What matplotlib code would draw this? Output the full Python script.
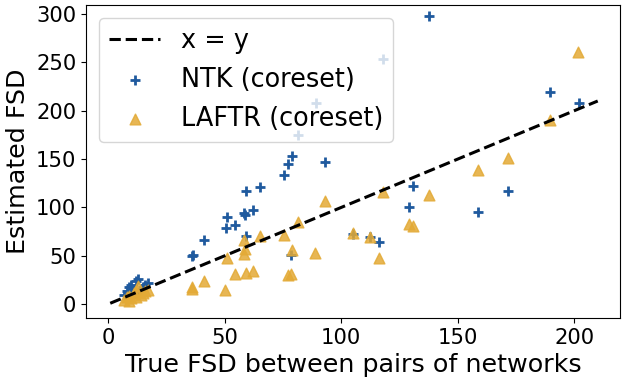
import matplotlib
matplotlib.use("Agg")
import matplotlib.pyplot as plt
import numpy as np

# identity reference line
line_x = [1, 210]

# NTK (coreset) estimates
ntk_true = [7, 8, 9, 10, 11, 12, 13, 14, 16, 17, 10, 12, 15,
            36.0, 36.3, 41.1, 50.6, 50.9, 54.6, 58.3, 58.7, 59.2, 62.2,
            59.4, 65.4, 75.3, 77.3, 79.0, 81.3, 93.2, 89.2, 78.3,
            105.1, 112.3, 116.2, 118.0, 129.1, 130.6, 137.7, 158.7,
            171.7, 189.6, 201.9]
ntk_est = [10, 14, 18, 20, 16, 24, 26, 15, 20, 22, 8, 12, 18,
           50.0, 51.3, 66.8, 79.2, 90.2, 81.9, 94.7, 91.9, 71.0, 97.8,
           117.1, 121.2, 133.3, 144.6, 153.6, 175.3, 147.4, 208.4, 50.6,
           73.0, 69.5, 64.4, 253.1, 100.2, 121.9, 297.8, 95.4,
           116.7, 219.3, 208.4]

# LAFTR (coreset) estimates
laftr_true = [7, 8, 9, 10, 11, 12, 13, 14, 15, 16, 9, 12, 17,
              35.9, 36.1, 41.1, 50.4, 50.9, 54.6, 58.3, 58.4, 58.6, 59.4,
              62.2, 65.4, 75.3, 77.3, 78.7, 79.1, 81.3, 88.9, 93.2,
              105.1, 112.3, 116.2, 118.0, 129.0, 130.6, 137.5, 158.6,
              171.6, 189.6, 201.7]
laftr_est = [4, 7, 9, 6, 12, 14, 19, 10, 12, 14, 3, 8, 15,
             16.2, 17.9, 24.5, 14.5, 47.5, 31.7, 66.8, 52.3, 56.8, 32.3,
             34.4, 70.2, 71.6, 30.0, 31.0, 55.8, 85.0, 52.7, 106.7,
             73.3, 69.5, 47.9, 116.0, 83.4, 80.6, 112.6, 139.2,
             151.2, 190.1, 260.6]

blue = "#1f5a9e"
gold = "#e3aa36"

fig = plt.figure(figsize=(6.23, 3.83), dpi=100)
ax = fig.add_axes([0.138, 0.170, 0.857, 0.817])

ax.plot(line_x, line_x, "k--", lw=2.2, label="x = y")
ax.scatter(ntk_true, ntk_est, marker="+", s=45, linewidths=2,
           color=blue, label="NTK (coreset)")
ax.scatter(laftr_true, laftr_est, marker="^", s=60, color=gold,
           alpha=0.85, label="LAFTR (coreset)")

ax.set_xlim(-9.4, 219.5)
ax.set_ylim(-14.1, 309.2)
ax.set_xticks([0, 50, 100, 150, 200])
ax.set_yticks([0, 50, 100, 150, 200, 250, 300])
ax.tick_params(labelsize=15.2)
ax.set_xlabel("True FSD between pairs of networks", fontsize=18.3)
ax.set_ylabel("Estimated FSD", fontsize=18.3)
ax.legend(loc="upper left", fontsize=18.4)

fig.savefig("out.png", dpi=100)
